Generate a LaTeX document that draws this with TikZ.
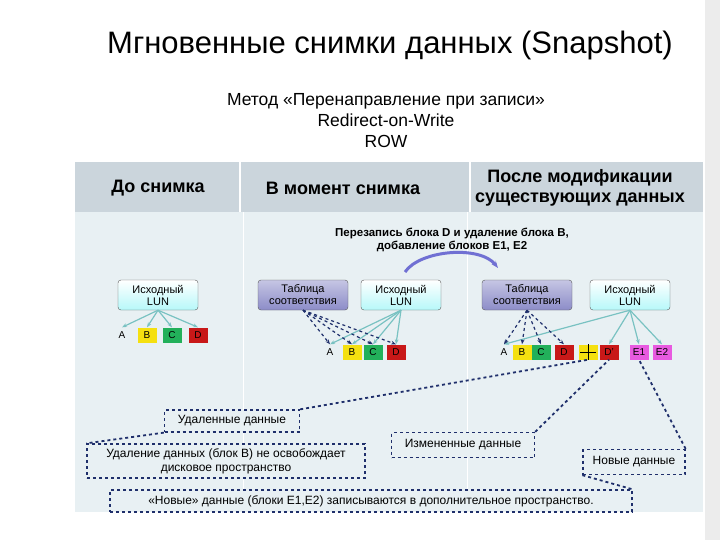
\documentclass[tikz,border=0pt]{standalone}
\usepackage{fontspec}
\setmainfont{Liberation Sans}
\usetikzlibrary{arrows.meta,shadows}
\definecolor{panel}{HTML}{E8F0F3}
\definecolor{head}{HTML}{CBD5DC}
\definecolor{lun}{HTML}{E4F6F8}
\definecolor{tab}{HTML}{8C8CC8}
\definecolor{teal}{HTML}{79C2C2}
\definecolor{dblue}{HTML}{1F2F6B}
\definecolor{byel}{HTML}{F5E010}
\definecolor{bgrn}{HTML}{22B05A}
\definecolor{bred}{HTML}{C81818}
\definecolor{bpink}{HTML}{E85AE0}
\tikzset{
 lunbox/.style={draw=gray!70!black,rounded corners=3pt,top color=white,bottom color=lun!80!cyan,minimum width=80pt,minimum height=30pt,align=center,font=\fontsize{11}{12}\selectfont,inner sep=1pt},
 tabbox/.style={lunbox,top color=tab!50,bottom color=tab,minimum width=90pt},
 blk/.style={minimum width=19pt,minimum height=15pt,inner sep=0pt,font=\fontsize{10}{11}\selectfont},
 lunarr/.style={teal,line width=1.2pt,-{Stealth[length=5pt]}},
 tabarr/.style={dblue,line width=1.2pt,dashed,-{Stealth[length=5pt]}},
 dbox/.style={draw=dblue,line width=1.3pt,dashed,fill=panel,align=center,font=\fontsize{12}{14}\selectfont,inner sep=2pt},
 dlink/.style={dblue,line width=1.8pt,dashed},
 hd/.style={font=\fontsize{18}{20}\selectfont\bfseries,align=center}
}
\begin{document}
\begin{tikzpicture}[x=1pt,y=-1pt]
\useasboundingbox (0,0) rectangle (720,540);
\fill[white] (0,0) rectangle (720,540);
\fill[gray!15] (705,0) rectangle (720,540);
\node (title) at (390,45) {\fontsize{31}{34}\selectfont Мгновенные снимки данных (Snapshot)};
\node[align=center,font=\fontsize{17.5}{21}\selectfont] (sub) at (386,121) {Метод «Перенаправление при записи»\\Redirect-on-Write\\ROW};
\fill[panel] (75,162) rectangle (703,512);
\fill[head] (75,162) rectangle (703,212);
\draw[white,line width=1.5pt] (240,162) -- (240,212) (470,162) -- (470,212);
\draw[white,line width=1pt] (243,212) -- (243,512) (467,212) -- (467,512);
\node[hd] (h1) at (158,188) {До снимка};
\node[hd] (h2) at (343,188) {В момент снимка};
\node[hd] (h3) at (580,188) {После модификации\\существующих данных};
\node[align=center,font=\fontsize{11.5}{13}\selectfont\bfseries] (note) at (452,240) {Перезапись блока D и удаление блока В,\\добавление блоков Е1, Е2};
% boxes
\node[lunbox] (l1) at (158,295) {Исходный\\LUN};
\node[tabbox] (t2) at (303,295) {Таблица\\соответствия};
\node[lunbox] (l2) at (401,295) {Исходный\\LUN};
\node[tabbox] (t3) at (527,295) {Таблица\\соответствия};
\node[lunbox] (l3) at (630,295) {Исходный\\LUN};
\coordinate (ca) at (405,272); \coordinate (cb) at (498,268);
\draw[tab!80!blue,line width=3pt,-{Stealth[length=7pt]}] (ca) .. controls (420,250) and (480,245) .. (cb);
% blocks
\foreach \n/\x/\y/\c/\t in {a1/122/335/panel/A,b1/147/335/byel/B,c1/172/335/bgrn/C,d1/198/335/bred/D,
 a2/330/352/panel/A,b2/352/352/byel/B,c2/373/352/bgrn/C,d2/396/352/bred/D,
 a3/504/352/panel/A,b3/522/352/byel/B,c3/541/352/bgrn/C,d3/564/352/bred/D,x3/588/352/byel/{},
 dd3/609/352/bred/{D'},e13/639/352/bpink/E1,e23/662/352/bpink/E2}
 \node[blk,fill=\c] (\n) at (\x,\y) {\t};
\draw[black,line width=1pt] (580,352) -- (596,352) (588,344) -- (588,360);
% lun arrows
\foreach \b in {a1,b1,c1,d1} \draw[lunarr] (l1.south) -- (\b.north);
\foreach \b in {a2,b2,c2,d2} \draw[lunarr] (l2.south) -- (\b.north);
\foreach \b in {a3,dd3,e13,e23} \draw[lunarr] (l3.south) -- (\b.north);
\foreach \b in {a2,b2,c2,d2} \draw[tabarr] (t2.south) -- (\b.north);
\foreach \b in {a3,b3,c3,d3} \draw[tabarr] (t3.south) -- (\b.north);
% dashed boxes
\node[dbox,minimum width=135pt,minimum height=22pt] (del) at (232,421) {Удаленные данные};
\node[dbox,minimum width=278pt,minimum height=34pt] (deln) at (226,461) {Удаление данных (блок В) не освобождает\\дисковое пространство};
\node[dbox,minimum width=143pt,minimum height=25pt] (chg) at (463,445) {Измененные данные};
\node[dbox,minimum width=102pt,minimum height=25pt] (new) at (634,462) {Новые данные};
\node[dbox,minimum width=522pt,minimum height=22pt] (newn) at (371,501) {«Новые» данные (блоки Е1,Е2) записываются в дополнительное пространство.};
\draw[dlink] (del.north east) -- (x3.south);
\draw[dlink] (del.south west) -- (deln.north west);
\draw[dlink] (chg.north east) -- (dd3.south);
\draw[dlink] (new.north east) -- (e13.south);
\draw[dlink] (new.south west) -- (newn.north east);
\end{tikzpicture}
\end{document}
